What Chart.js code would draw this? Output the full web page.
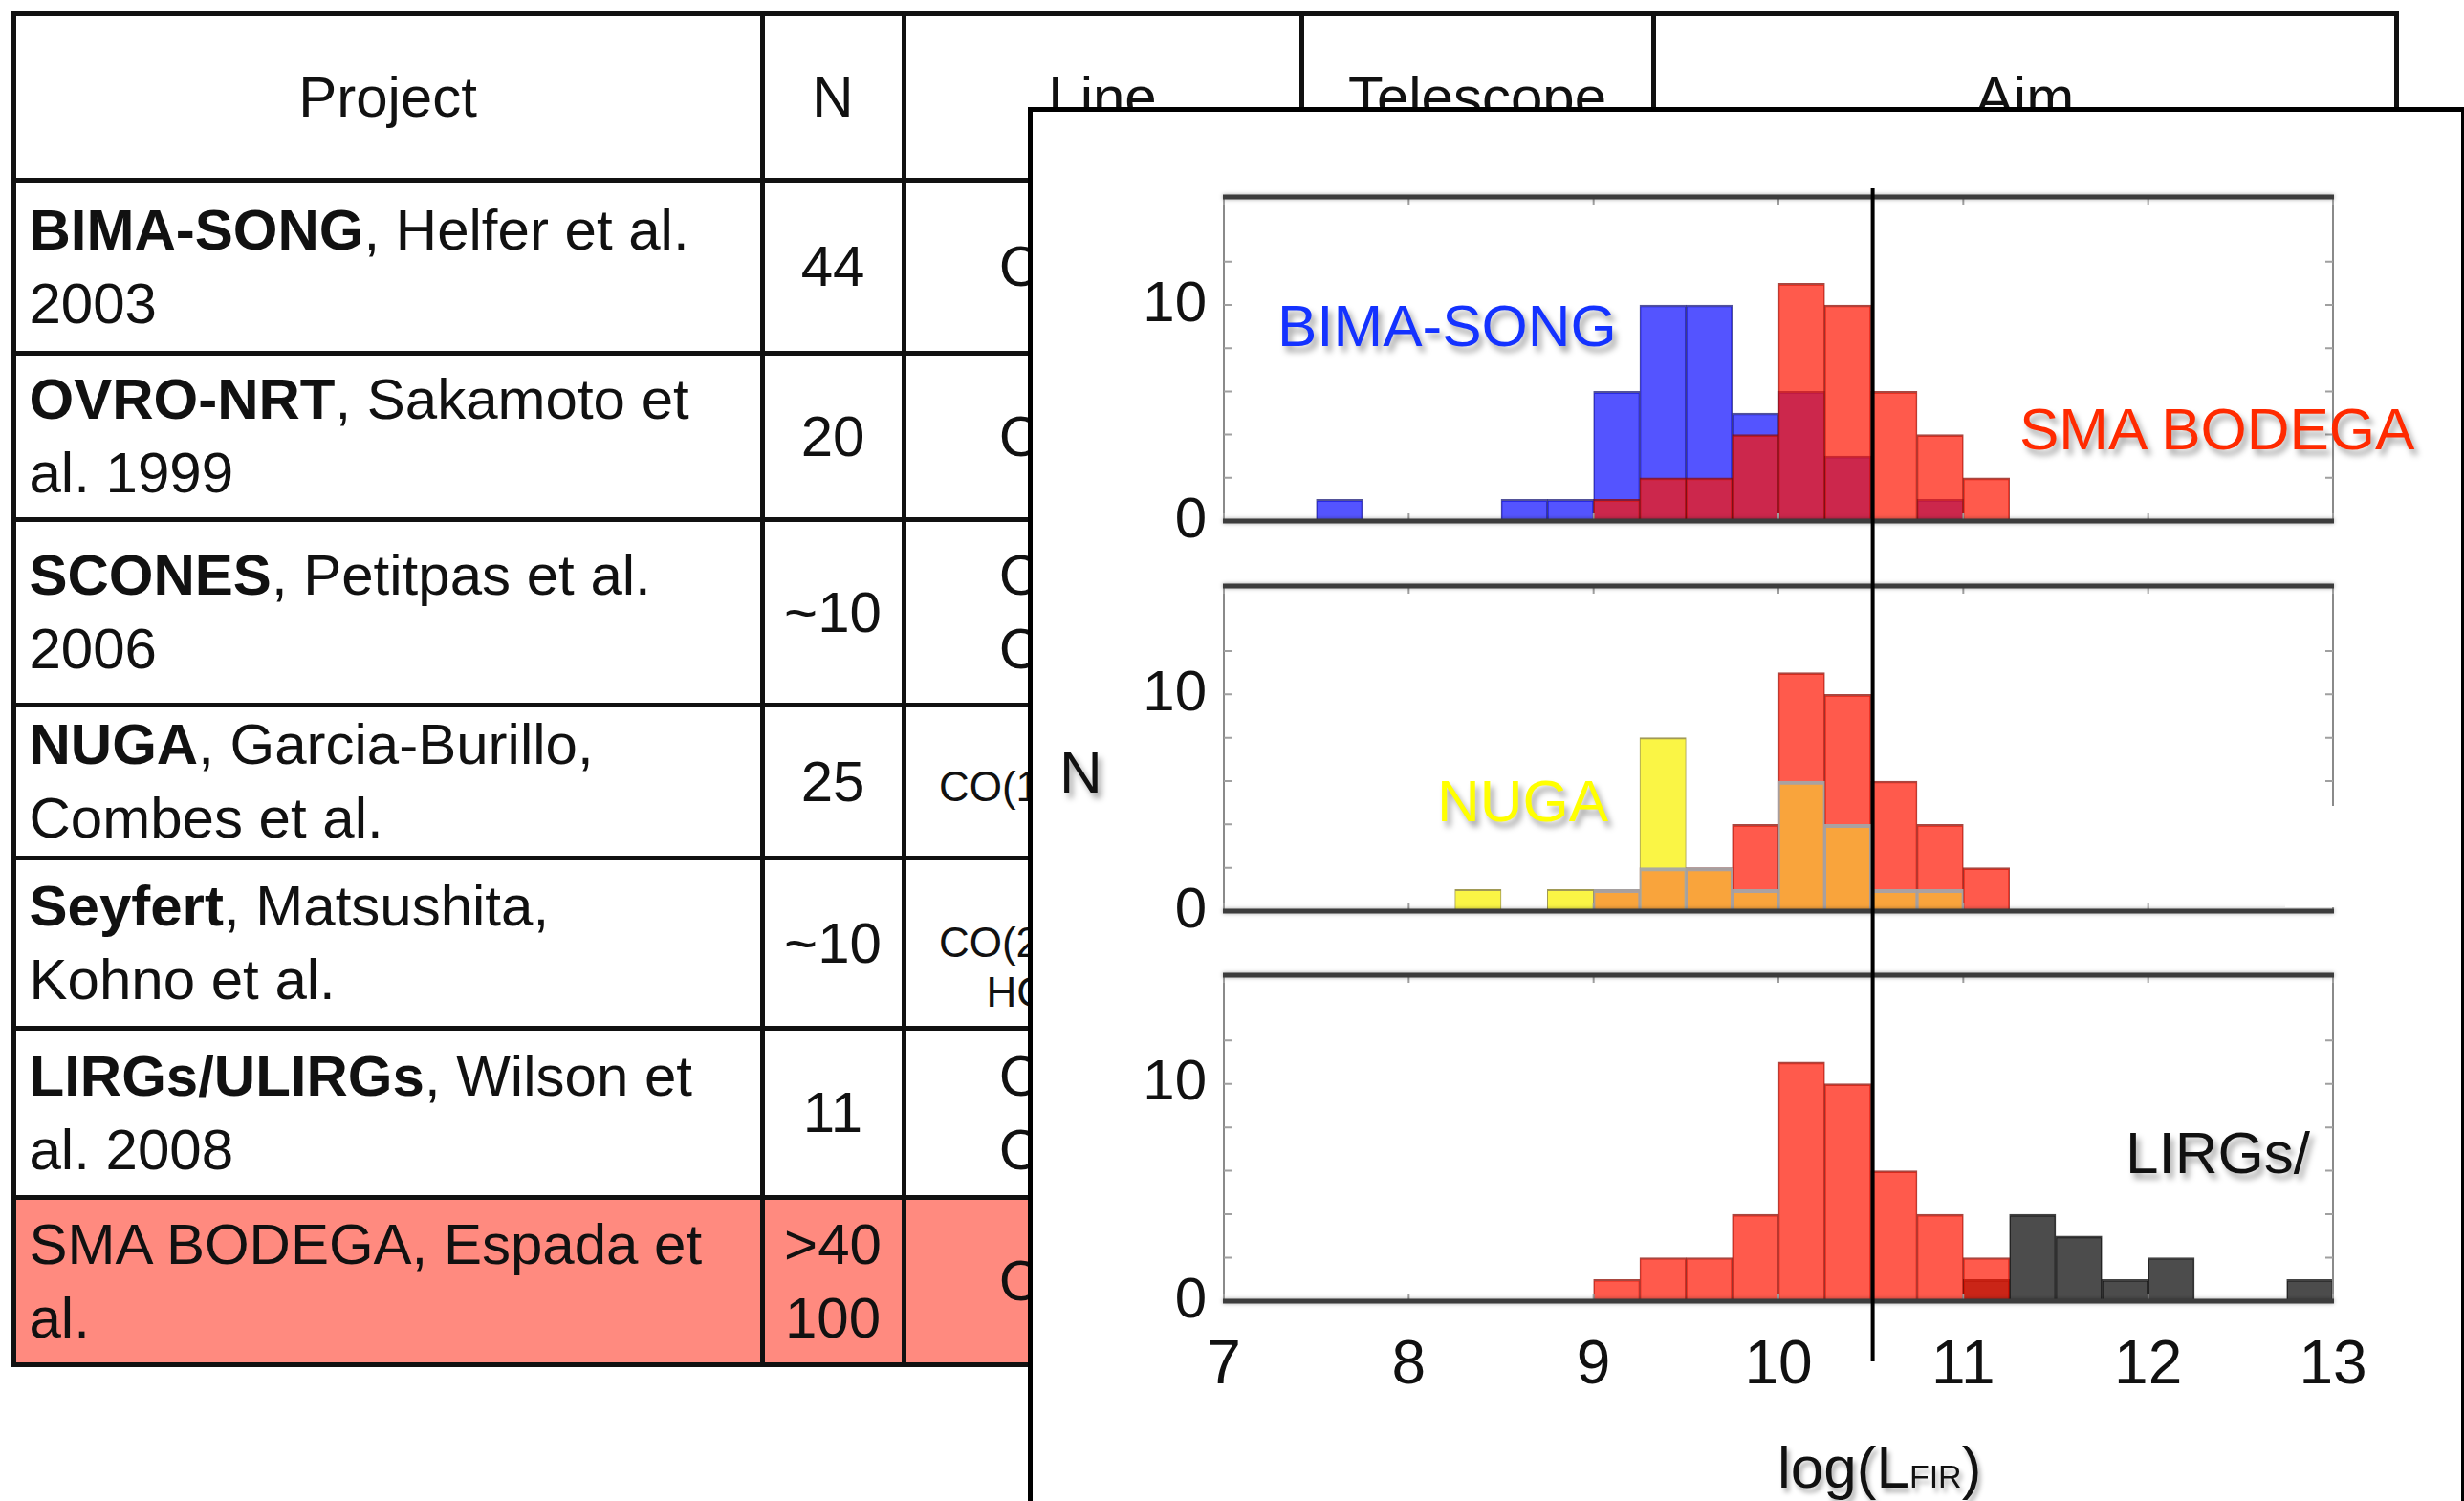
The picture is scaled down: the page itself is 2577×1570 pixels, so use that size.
<!DOCTYPE html>
<html>
<head>
<meta charset="utf-8">
<script src="https://cdn.jsdelivr.net/npm/chart.js@4.4.1/dist/chart.umd.min.js"></script>
<style>
body { margin: 0; width: 2577px; height: 1570px; overflow: hidden; background: #fff; position: relative;
       font-family: 'Liberation Sans', Arial, sans-serif; color: #111; }
.cell { position: absolute; box-sizing: border-box; border: 5px solid #111; display: flex; align-items: center;
        font-size: 60px; line-height: 77px; white-space: nowrap; overflow: hidden; }
.cell.l { padding-left: 14px; }
.cell.c { justify-content: center; text-align: center; }
.small { font-size: 44px; line-height: 52px; }
#panel { position: absolute; left: 1075px; top: 112px; width: 1502px; height: 1500px; box-sizing: border-box;
         background: #fff; border-left: 5px solid #000; border-top: 5px solid #000; border-right: 3px solid #000; }
canvas { position: absolute; }
.lab { position: absolute; font-size: 62px; line-height: 62px; white-space: nowrap;
       text-shadow: 4px 6px 6px rgba(0,0,0,0.35); }
</style>
</head>
<body>
<div id="panel"></div>
<canvas id="top" width="1480" height="430" style="left:1090px; top:160px"></canvas>
<canvas id="mid" width="1480" height="410" style="left:1090px; top:590px"></canvas>
<canvas id="bot" width="1480" height="570" style="left:1090px; top:1000px"></canvas>
<div style="position:absolute; left:2390px; top:843px; width:52px; height:106px; background:#fff"></div>

<div class="lab" style="left:1336px; top:310px; color:#1432ff">BIMA-SONG</div>
<div class="lab" style="left:2112px; top:418px; color:#ff2a00">SMA BODEGA</div>
<div class="lab" style="left:1503px; top:807px; color:#ffff00">NUGA</div>
<div class="lab" style="left:2223px; top:1175px; color:#111">LIRGs/</div>
<div class="lab" style="left:1108px; top:777px; color:#111">N</div>
<div class="lab" style="left:1859px; top:1504px; color:#111; text-shadow:3px 5px 5px rgba(0,0,0,0.3)">log(L<span style="font-size:34px">FIR</span>)</div>

<script>
// table text
const tableHeaders = ['Project', 'N', 'Line', 'Telescope', 'Aim'];
const projectCells = [
    '<b>BIMA-SONG</b>, Helfer et al.<br>2003',
    '<b>OVRO-NRT</b>, Sakamoto et<br>al. 1999',
    '<b>SCONES</b>, Petitpas et al.<br>2006',
    '<b>NUGA</b>, Garcia-Burillo,<br>Combes et al.',
    '<b>Seyfert</b>, Matsushita,<br>Kohno et al.',
    '<b>LIRGs/ULIRGs</b>, Wilson et<br>al. 2008',
    'SMA BODEGA, Espada et<br>al.'
];
const sizeCells = ['44', '20', '~10', '25', '~10', '11', '&gt;40<br>100'];
const lineCells = [
    'CO(1-0)',
    'CO(1-0)',
    'CO(1-0)<br>CO(2-1)',
    '<span class="small">CO(1-0), CO(2-1)</span>',
    '<div class="small">CO(1-0)<br>CO(2-1), CO(3-2)<br>HCN, HCO+</div>',
    'CO(1-0)<br>CO(2-1)',
    'CO(2-1)'
];
const rowEdges = [14, 188, 369, 543, 737, 897, 1075, 1252, 1427];
const colEdges = [14, 797, 945, 1361, 1729, 2506];
const highlightColor = '#ff8a7f';

// histogram bins of 0.25 in log(L_FIR), counts per sample
const binCenters = [7.125, 7.375, 7.625, 7.875, 8.125, 8.375, 8.625, 8.875,
                    9.125, 9.375, 9.625, 9.875, 10.125, 10.375, 10.625, 10.875,
                    11.125, 11.375, 11.625, 11.875, 12.125, 12.375, 12.625, 12.875];
const smaBodega  = [0, 0, 0, 0, 0, 0, 0, 0, 1, 2, 2, 4, 11, 10, 6, 4, 2, 0, 0, 0, 0, 0, 0, 0];
const bimaSong   = [0, 0, 1, 0, 0, 0, 1, 1, 6, 10, 10, 5, 6, 3, 0, 1, 0, 0, 0, 0, 0, 0, 0, 0];
const nugaOnly   = [0, 0, 0, 0, 0, 1, 0, 1, 0, 8, 0, 0, 0, 0, 0, 0, 0, 0, 0, 0, 0, 0, 0, 0];
const nugaShared = [0, 0, 0, 0, 0, 0, 0, 0, 1, 2, 2, 1, 6, 4, 1, 1, 0, 0, 0, 0, 0, 0, 0, 0];
const lirgs      = [0, 0, 0, 0, 0, 0, 0, 0, 0, 0, 0, 0, 0, 0, 0, 0, 1, 4, 3, 1, 2, 0, 0, 1];
const xTicks = [7, 8, 9, 10, 11, 12, 13];
const yLabels = [0, 10];
const cutValue = 10.51;

function buildTable()
{
    const panel = document.getElementById('panel');
    for (let r = 0; r < rowEdges.length - 1; r++)
    {
        for (let c = 0; c < colEdges.length - 1; c++)
        {
            var d = document.createElement('div');
            d.className = 'cell ' + (c == 0 && r > 0 ? 'l' : 'c');
            d.style.left = (colEdges[c] - 2.5) + 'px';
            d.style.top = (rowEdges[r] - 2.5) + 'px';
            d.style.width = (colEdges[c + 1] - colEdges[c] + 5) + 'px';
            d.style.height = (rowEdges[r + 1] - rowEdges[r] + 5) + 'px';
            if (r == rowEdges.length - 2)
                d.style.background = highlightColor;
            var text = '';
            if (r == 0) text = tableHeaders[c];
            else if (c == 0) text = projectCells[r - 1];
            else if (c == 1) text = sizeCells[r - 1];
            else if (c == 2) text = lineCells[r - 1];
            d.innerHTML = '<div>' + text + '</div>';
            document.body.insertBefore(d, panel);
        }
    }
}

const framePlugin = {
    id: 'frame',
    afterDatasetsDraw(chart)
    {
        const ctx = chart.ctx, a = chart.chartArea;
        const xs = chart.scales.x, ys = chart.scales.y;
        ctx.save();
        ctx.strokeStyle = '#8a8a8a';
        ctx.lineWidth = 2;
        ctx.beginPath();
        ctx.moveTo(a.left, a.top); ctx.lineTo(a.left, a.bottom);
        ctx.moveTo(a.right, a.top); ctx.lineTo(a.right, a.bottom);
        ctx.stroke();

        ctx.strokeStyle = '#a0a0a0';
        ctx.beginPath();
        ys.ticks.forEach(function(t)
        {
            var y = ys.getPixelForValue(t.value);
            ctx.moveTo(a.left, y); ctx.lineTo(a.left + 8, y);
            ctx.moveTo(a.right - 8, y); ctx.lineTo(a.right, y);
        });
        xTicks.forEach(function(v)
        {
            var x = xs.getPixelForValue(v);
            ctx.moveTo(x, a.top); ctx.lineTo(x, a.top + 8);
            ctx.moveTo(x, a.bottom - 8); ctx.lineTo(x, a.bottom);
        });
        ctx.stroke();

        ctx.shadowColor = 'rgba(0,0,0,0.35)';
        ctx.shadowBlur = 4;
        ctx.strokeStyle = '#3c3c3c';
        ctx.lineWidth = 5;
        ctx.beginPath();
        ctx.moveTo(a.left - 1, a.top); ctx.lineTo(a.right + 1, a.top);
        ctx.moveTo(a.left - 1, a.bottom); ctx.lineTo(a.right + 1, a.bottom);
        ctx.stroke();
        ctx.restore();
    },
    afterDraw(chart, args, opts)
    {
        const ctx = chart.ctx, a = chart.chartArea;
        var x = chart.scales.x.getPixelForValue(cutValue);
        var y0 = opts.lineTop == null ? 0 : a.top + opts.lineTop;
        var y1 = opts.lineBottom == null ? chart.height : a.bottom + opts.lineBottom;
        ctx.save();
        ctx.strokeStyle = '#000';
        ctx.lineWidth = 4;
        ctx.beginPath();
        ctx.moveTo(x, y0);
        ctx.lineTo(x, y1);
        ctx.stroke();
        ctx.restore();
    }
};

function histogram(id, sets, pad, showX, cut)
{
    var ctx = document.getElementById(id);
    return new Chart(ctx, {
        type: 'bar',
        data: {
            datasets: sets.map(function(s)
            {
                return {
                    label: s.label,
                    data: binCenters.map(function(x, i) { return { x: x, y: s.values[i] }; }),
                    backgroundColor: s.fill,
                    borderColor: s.edge,
                    borderWidth: s.width || { top: 2, left: 1, right: 1, bottom: 0 },
                    borderSkipped: false,
                    barPercentage: 1,
                    categoryPercentage: 1,
                    grouped: false
                };
            })
        },
        options: {
            responsive: false,
            animation: false,
            devicePixelRatio: 1,
            layout: { padding: pad },
            plugins: { legend: { display: false }, tooltip: { enabled: false }, frame: cut },
            scales: {
                x: {
                    type: 'linear', min: 7, max: 13, offset: false, display: showX,
                    grid: { display: false, drawTicks: false },
                    border: { display: false },
                    afterBuildTicks: function(s) { s.ticks = xTicks.map(function(v) { return { value: v }; }); },
                    ticks: { font: { size: 64 }, color: '#111', padding: 30, maxRotation: 0, autoSkip: false },
                    afterFit: function(s)
                    {
                        if (showX)
                        {
                            s.height = 209;
                            s.paddingLeft = 0;
                            s.paddingRight = 0;
                        }
                    }
                },
                y: {
                    min: 0, max: 15,
                    grid: { display: false, drawTicks: false },
                    border: { display: false },
                    ticks: {
                        stepSize: 2, font: { size: 60 }, color: '#111', padding: 18, autoSkip: false,
                        callback: function(v) { return yLabels.indexOf(v) >= 0 ? String(v) : ''; }
                    },
                    afterFit: function(s) { s.width = 190; s.paddingTop = 0; s.paddingBottom = 0; }
                }
            }
        },
        plugins: [framePlugin]
    });
}

Chart.defaults.font.family = "'Liberation Sans', Arial, sans-serif";
buildTable();

const red = { label: 'SMA BODEGA', values: smaBodega, fill: 'rgba(255,20,0,0.7)', edge: 'rgba(140,10,0,0.75)' };

histogram('top', [
    red,
    { label: 'BIMA-SONG', values: bimaSong, fill: 'rgba(0,0,255,0.67)', edge: 'rgba(10,10,110,0.7)' }
], { top: 46, bottom: 45, right: 130, left: 0 }, false, { lineTop: -9, lineBottom: null });

histogram('mid', [
    { label: 'NUGA (shared)', values: nugaShared, fill: '#f9a43c', edge: 'rgba(165,165,165,0.95)',
      width: { top: 4, left: 2, right: 2, bottom: 0 } },
    { label: 'NUGA', values: nugaOnly, fill: '#faf545', edge: 'rgba(130,120,30,0.75)' },
    red
], { top: 23, bottom: 47, right: 130, left: 0 }, false, { lineTop: null, lineBottom: null });

histogram('bot', [
    red,
    { label: 'LIRGs/ULIRGs', values: lirgs, fill: 'rgba(0,0,0,0.7)', edge: 'rgba(20,20,20,0.8)' }
], { top: 20, bottom: 0, right: 130, left: 0 }, true, { lineTop: null, lineBottom: 63 });
</script>
</body>
</html>
